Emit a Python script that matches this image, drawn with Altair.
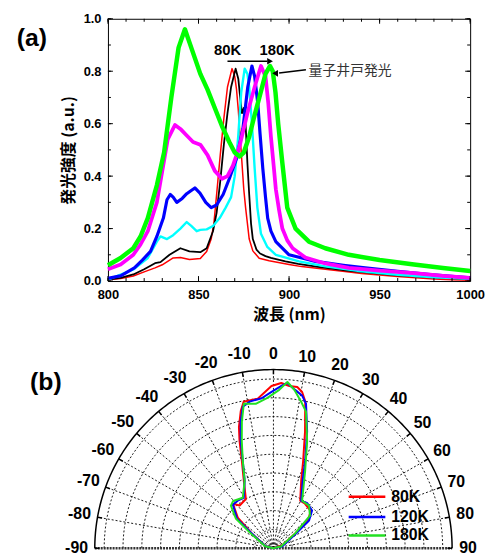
import altair as alt
import numpy as np
import pandas as pd

FONT = "Liberation Sans, Arial, Noto Sans CJK JP, sans-serif"
JFONT = "Noto Sans CJK JP, Liberation Sans, sans-serif"

# ---------------- (a) PL spectra ----------------
TEMPS = ["80K", "100K", "120K", "140K", "160K", "180K"]
COLORS_A = ["#ff0000", "#000000", "#00ffff", "#0000ff", "#ff00ff", "#00ff00"]
WIDTHS_A = [1.5, 1.8, 2.4, 3.2, 3.8, 4.5]

RED_WL = [800, 807, 814, 820, 826, 830, 836, 840, 845, 851, 854.5, 857, 858.5, 860, 862, 864, 866, 868.5, 870, 871, 872, 873, 874, 875, 876, 877, 878, 880, 883.5, 889, 900, 907, 920, 932, 940, 950, 960, 970, 980, 990, 1000]
RED_I = [0.005, 0.01, 0.019, 0.035, 0.05, 0.062, 0.088, 0.09, 0.082, 0.086, 0.113, 0.16, 0.22, 0.33, 0.48, 0.62, 0.74, 0.81, 0.78, 0.73, 0.65, 0.55, 0.45, 0.35, 0.28, 0.22, 0.16, 0.115, 0.087, 0.077, 0.063, 0.055, 0.045, 0.035, 0.029, 0.023, 0.017, 0.012, 0.008, 0.005, 0.003]

BLACK_WL = [800, 807, 814, 820, 826, 829, 834, 840, 845, 851, 854.5, 858, 860, 862, 864, 866, 868, 870.5, 872, 873, 874, 875, 876, 877, 878, 879, 880, 882, 884, 887, 890, 898, 905, 916, 932, 945, 960, 975, 990, 1000]
BLACK_I = [0.005, 0.012, 0.025, 0.045, 0.068, 0.072, 0.10, 0.125, 0.113, 0.11, 0.125, 0.19, 0.26, 0.38, 0.52, 0.64, 0.74, 0.81, 0.77, 0.70, 0.64, 0.66, 0.60, 0.45, 0.33, 0.22, 0.16, 0.12, 0.105, 0.095, 0.088, 0.075, 0.065, 0.054, 0.04, 0.031, 0.022, 0.015, 0.01, 0.007]

CYAN_WL = [800, 807, 814, 822, 827, 829, 832.6, 836, 840, 843.5, 846, 849, 851, 854.5, 858, 861.7, 865, 868, 870, 871.9, 873.6, 875.5, 877, 878, 879.5, 881, 882.5, 884.5, 888, 892.7, 905.5, 920, 940, 960, 980, 1000]
CYAN_I = [0.005, 0.025, 0.044, 0.088, 0.15, 0.17, 0.16, 0.175, 0.20, 0.225, 0.21, 0.19, 0.195, 0.197, 0.21, 0.24, 0.28, 0.32, 0.40, 0.55, 0.72, 0.81, 0.79, 0.74, 0.60, 0.43, 0.28, 0.18, 0.13, 0.10, 0.075, 0.056, 0.037, 0.024, 0.014, 0.008]

BLUE_WL = [800, 807, 814.6, 819, 823.5, 827, 830.6, 832.6, 834.4, 836, 838, 841, 843.5, 846, 848, 850.8, 854, 857, 860, 863.6, 867, 870.9, 874.5, 877.2, 879.5, 881, 882.7, 884, 885.5, 887, 888.2, 890, 892.7, 900, 914.6, 930, 942, 960, 978, 1000]
BLUE_I = [0.01, 0.02, 0.05, 0.08, 0.113, 0.17, 0.24, 0.31, 0.33, 0.32, 0.30, 0.315, 0.333, 0.345, 0.355, 0.335, 0.30, 0.28, 0.29, 0.33, 0.39, 0.465, 0.58, 0.74, 0.82, 0.78, 0.68, 0.56, 0.43, 0.32, 0.24, 0.19, 0.15, 0.10, 0.075, 0.06, 0.05, 0.037, 0.025, 0.012]

MAG_WL = [800, 807, 814, 818, 822, 827, 830, 833, 837, 840, 843.5, 847, 851, 855, 859, 863, 866, 869, 872.7, 877, 881, 884.5, 887, 888.5, 890, 891.5, 892.7, 894.5, 896.3, 899, 902, 909, 920, 933, 950, 969, 985, 1000]
MAG_I = [0.045, 0.063, 0.10, 0.14, 0.19, 0.30, 0.42, 0.54, 0.595, 0.58, 0.555, 0.53, 0.52, 0.48, 0.42, 0.39, 0.40, 0.44, 0.515, 0.64, 0.74, 0.82, 0.78, 0.68, 0.55, 0.44, 0.35, 0.27, 0.20, 0.155, 0.125, 0.09, 0.067, 0.05, 0.04, 0.03, 0.02, 0.012]

GREEN_WL = [800, 807, 814, 818, 822, 827, 831, 835, 839, 842.5, 845, 848, 851, 855, 859, 863, 867, 870, 872.7, 875, 878, 880.5, 883.6, 887, 889.5, 891, 892.5, 894, 896.3, 899, 903.6, 911, 920, 933, 950, 969, 985, 1000]
GREEN_I = [0.06, 0.088, 0.125, 0.17, 0.24, 0.365, 0.49, 0.70, 0.89, 0.96, 0.91, 0.85, 0.79, 0.73, 0.66, 0.59, 0.53, 0.49, 0.475, 0.49, 0.55, 0.62, 0.70, 0.79, 0.82, 0.80, 0.72, 0.60, 0.45, 0.28, 0.20, 0.15, 0.125, 0.10, 0.08, 0.063, 0.05, 0.038]

WL_ALL = [RED_WL, BLACK_WL, CYAN_WL, BLUE_WL, MAG_WL, GREEN_WL]
I_ALL = [RED_I, BLACK_I, CYAN_I, BLUE_I, MAG_I, GREEN_I]

X_LABELS = [800, 850, 900, 950, 1000]
Y_LABELS = [0.0, 0.2, 0.4, 0.6, 0.8, 1.0]
X_MINOR = list(range(800, 1001, 10))
Y_MINOR = [round(0.1 * k, 1) for k in range(11)]

ANN_TEXT = ["80K", "180K"]
ANN_WL = [866.0, 893.4]
ANN_V = [0.879, 0.879]
ARROW1_WL = [866.0, 888.0]
ARROW1_V = [0.838, 0.838]
HEAD1 = (889.5, 0.838)
ARROW2_WL = [894.5, 909.3]
ARROW2_V = [0.793, 0.806]
HEAD2 = (892.3, 0.792)
QW_TEXT = "量子井戸発光"
QW_POS = (910.8, 0.80)

W_A, H_A = 366, 265

rows = []
for name, L, V in zip(TEMPS, WL_ALL, I_ALL):
    for k, (l, v) in enumerate(zip(L, V)):
        rows.append({"temp": name, "wl": l, "v": v, "ord": k})
df_a = pd.DataFrame(rows)

xs_a = alt.Scale(domain=[800, 1000], nice=False, zero=False)
ys_a = alt.Scale(domain=[0, 1], nice=False, zero=False)
cs_a = alt.Scale(domain=TEMPS, range=COLORS_A)

xa = alt.X("wl:Q", scale=xs_a, axis=alt.Axis(
    values=X_LABELS, format="d", ticks=False, domain=False, grid=False,
    labelFlush=False, labelOverlap=False,
    labelFont=FONT, labelFontSize=13, labelFontWeight="bold", labelColor="black",
    labelPadding=8, title="波長 (nm)", titleFont=JFONT, titleFontSize=16,
    titleFontWeight="bold", titleColor="black", titlePadding=5))
ya = alt.Y("v:Q", scale=ys_a, axis=alt.Axis(
    values=Y_LABELS, format=".1f", ticks=False, domain=False, grid=False,
    labelFlush=False, labelOverlap=False,
    labelFont=FONT, labelFontSize=13, labelFontWeight="bold", labelColor="black",
    labelPadding=7, title="発光強度 (a.u.)", titleFont=JFONT, titleFontSize=16,
    titleFontWeight="bold", titleColor="black", titlePadding=7))

layers_a = []
for name, w in zip(TEMPS, WIDTHS_A):
    layers_a.append(
        alt.Chart(df_a).transform_filter(alt.datum.temp == name)
        .mark_line(strokeWidth=w, strokeJoin="round")
        .encode(x=xa, y=ya, order="ord:Q",
                color=alt.Color("temp:N", scale=cs_a, legend=None)))

# inward ticks on all four sides
for vals, ln in [(X_LABELS, 5), (X_MINOR, 3)]:
    tdf = pd.DataFrame({"wl": vals})
    layers_a.append(alt.Chart(tdf).mark_rule(color="black", strokeWidth=1).encode(
        x=xa, y=alt.value(H_A), y2=alt.value(H_A - ln)))
    layers_a.append(alt.Chart(tdf).mark_rule(color="black", strokeWidth=1).encode(
        x=xa, y=alt.value(0), y2=alt.value(ln)))
for vals, ln in [(Y_LABELS, 5), (Y_MINOR, 3)]:
    tdf = pd.DataFrame({"v": vals})
    layers_a.append(alt.Chart(tdf).mark_rule(color="black", strokeWidth=1).encode(
        y=ya, x=alt.value(0), x2=alt.value(ln)))
    layers_a.append(alt.Chart(tdf).mark_rule(color="black", strokeWidth=1).encode(
        y=ya, x=alt.value(W_A), x2=alt.value(W_A - ln)))

ann_df = pd.DataFrame({"wl": ANN_WL, "v": ANN_V, "t": ANN_TEXT})
layers_a.append(alt.Chart(ann_df).mark_text(font=FONT, fontSize=15, fontWeight="bold",
                                            color="black", align="center", baseline="middle")
                .encode(x=xa, y=ya, text="t:N"))
ar1 = pd.DataFrame({"wl": ARROW1_WL, "v": ARROW1_V})
layers_a.append(alt.Chart(ar1).mark_line(color="black", strokeWidth=1.5).encode(x=xa, y=ya))
h1 = pd.DataFrame({"wl": [HEAD1[0]], "v": [HEAD1[1]]})
layers_a.append(alt.Chart(h1).mark_point(shape="triangle-right", filled=True, size=45,
                                         color="black", opacity=1).encode(x=xa, y=ya))
ar2 = pd.DataFrame({"wl": ARROW2_WL, "v": ARROW2_V})
layers_a.append(alt.Chart(ar2).mark_line(color="black", strokeWidth=1.5).encode(x=xa, y=ya))
h2 = pd.DataFrame({"wl": [HEAD2[0]], "v": [HEAD2[1]]})
layers_a.append(alt.Chart(h2).mark_point(shape="triangle-left", filled=True, size=45,
                                         color="black", opacity=1).encode(x=xa, y=ya))
qw = pd.DataFrame({"wl": [QW_POS[0]], "v": [QW_POS[1]], "t": [QW_TEXT]})
layers_a.append(alt.Chart(qw).mark_text(font=JFONT, fontSize=14, color="#333333",
                                        align="left", baseline="middle")
                .encode(x=xa, y=ya, text="t:N"))
pa = pd.DataFrame({"wl": [758.0], "v": [0.925], "t": ["(a)"]})
layers_a.append(alt.Chart(pa).mark_text(font=FONT, fontSize=25, fontWeight="bold",
                                        color="black", align="center", baseline="middle")
                .encode(x=xa, y=ya, text="t:N"))

chart_a = alt.layer(*layers_a).properties(
    width=W_A, height=H_A, view=alt.ViewBackground(stroke="black", strokeWidth=1))

# ---------------- (b) polar emission pattern ----------------
B_TEMPS = ["80K", "120K", "180K"]
COLORS_B = ["#ff0000", "#0000ff", "#22e022"]

RED_ANG = [-90, -76, -55.7, -49.3, -42.3, -38.3, -29.2, -23.8, -20.0, -17.5, -15.9, -13.4, -11.5, -6.0, -3.3, -0.7, 2.7, 5.6, 8.4, 10.4, 12.2, 15.2, 18.8, 22.4, 29.4, 35.4, 45.0, 51.3, 55.7, 71.6, 90]
RED_R = [0, 0.043, 0.14, 0.25, 0.32, 0.29, 0.30, 0.39, 0.49, 0.60, 0.67, 0.75, 0.795, 0.80, 0.83, 0.863, 0.88, 0.867, 0.867, 0.845, 0.80, 0.64, 0.49, 0.387, 0.29, 0.29, 0.28, 0.236, 0.14, 0.05, 0]

BLUE_ANG = [-90, -76, -55.2, -51, -43, -36.9, -30.5, -23.1, -19.4, -17, -14.5, -12.2, -9.2, -4.5, -0.7, 2.8, 4.8, 7.8, 10.7, 12.7, 16.1, 20, 23, 30.3, 36.5, 45.7, 52.1, 56.9, 77.5, 90]
BLUE_R = [0, 0.043, 0.147, 0.25, 0.316, 0.316, 0.311, 0.39, 0.49, 0.594, 0.696, 0.77, 0.79, 0.80, 0.832, 0.864, 0.882, 0.85, 0.825, 0.788, 0.646, 0.493, 0.40, 0.292, 0.30, 0.287, 0.24, 0.145, 0.049, 0]

GREEN_ANG = [-90, -77, -56.3, -51.7, -45, -40.5, -31.3, -23.1, -19.4, -16.5, -14, -11.6, -7, -2.3, 2.1, 4.8, 7.5, 10.7, 13.4, 17.5, 22.3, 31.1, 39.9, 48.3, 55.7, 76, 90]
GREEN_R = [0, 0.045, 0.152, 0.255, 0.32, 0.33, 0.314, 0.39, 0.49, 0.593, 0.694, 0.784, 0.774, 0.80, 0.843, 0.887, 0.85, 0.793, 0.747, 0.596, 0.444, 0.295, 0.295, 0.26, 0.14, 0.043, 0]

ANG_ALL = [RED_ANG, BLUE_ANG, GREEN_ANG]
R_ALL = [RED_R, BLUE_R, GREEN_R]

R_OUT = 0.95
GRID_R = [0.1, 0.2, 0.3, 0.4, 0.5, 0.6, 0.7, 0.8, 0.9]
SPOKES = list(range(-80, 81, 10))
ANGLE_LABELS = list(range(-90, 91, 10))
LEG_Y = [0.274, 0.166, 0.068]
LEG_X = [0.40, 0.595]
LEG_TX = 0.626

W_B, H_B = 366, 190
xs_b = alt.Scale(domain=[-0.88, 1.046], nice=False, zero=False)
ys_b = alt.Scale(domain=[0, 1], nice=False, zero=False)
cs_b = alt.Scale(domain=B_TEMPS, range=COLORS_B)
xb = alt.X("px:Q", scale=xs_b, axis=None)
yb = alt.Y("py:Q", scale=ys_b, axis=None)

PX = "datum.r * sin(datum.a * PI / 180)"
PY = "datum.r * cos(datum.a * PI / 180)"

grid_rows = [{"r": r, "a": a} for r in GRID_R for a in range(-90, 91, 2)]
grid_df = pd.DataFrame(grid_rows)
outer_df = pd.DataFrame({"r": R_OUT, "a": list(range(-90, 91, 1))})

layers_b = []
layers_b.append(alt.Chart(grid_df).transform_calculate(px=PX, py=PY)
                .mark_line(color="black", strokeWidth=0.9, strokeDash=[2, 2])
                .encode(x=xb, y=yb, detail="r:N", order="a:Q"))
spk = pd.DataFrame({"a": SPOKES, "r": R_OUT})
layers_b.append(alt.Chart(spk).transform_calculate(
    px="0", py="0", qx=PX, qy=PY)
    .mark_rule(color="black", strokeWidth=0.9, strokeDash=[2, 2])
    .encode(x=xb, y=yb, x2="qx:Q", y2="qy:Q"))
base_df = pd.DataFrame({"a": [-90], "r": [R_OUT]})
layers_b.append(alt.Chart(base_df).transform_calculate(
    px=PX, py="0", qx="-" + "(" + PX + ")", qy="0")
    .mark_rule(color="#333333", strokeWidth=2.5, strokeDash=[2, 1])
    .encode(x=xb, y=yb, x2="qx:Q", y2="qy:Q"))
layers_b.append(alt.Chart(outer_df).transform_calculate(px=PX, py=PY)
                .mark_line(color="black", strokeWidth=1.5)
                .encode(x=xb, y=yb, order="a:Q"))
tk = pd.DataFrame({"a": ANGLE_LABELS, "r": R_OUT})
layers_b.append(alt.Chart(tk).transform_calculate(
    px=PX, py=PY,
    qx="(datum.r - 0.025) * sin(datum.a * PI / 180)",
    qy="(datum.r - 0.025) * cos(datum.a * PI / 180)")
    .mark_rule(color="black", strokeWidth=1.5)
    .encode(x=xb, y=yb, x2="qx:Q", y2="qy:Q"))

brows = []
for name, A, R in zip(B_TEMPS, ANG_ALL, R_ALL):
    for k, (a, r) in enumerate(zip(A, R)):
        brows.append({"tb": name, "a": a, "r": r, "ord": k})
df_b = pd.DataFrame(brows)
for name in B_TEMPS:
    layers_b.append(alt.Chart(df_b).transform_filter(alt.datum.tb == name)
                    .transform_calculate(px=PX, py=PY)
                    .mark_line(strokeWidth=2, strokeJoin="round")
                    .encode(x=xb, y=yb, order="ord:Q",
                            color=alt.Color("tb:N", scale=cs_b, legend=None)))

leg_rows = []
for name, ly in zip(B_TEMPS, LEG_Y):
    leg_rows.append({"tb": name, "px": LEG_X[0], "qx": LEG_X[1], "py": ly, "tx": LEG_TX})
leg_df = pd.DataFrame(leg_rows)
layers_b.append(alt.Chart(leg_df).mark_rule(strokeWidth=2.5).encode(
    x=xb, x2="qx:Q", y=yb, color=alt.Color("tb:N", scale=cs_b, legend=None)))
layers_b.append(alt.Chart(leg_df).mark_text(font=FONT, fontSize=16, fontWeight="bold",
                                            color="black", align="left", baseline="middle")
                .encode(x=alt.X("tx:Q", scale=xs_b, axis=None), y=yb, text="tb:N"))

lab_df = pd.DataFrame({"a": ANGLE_LABELS, "t": [str(a) for a in ANGLE_LABELS]})
layers_b.append(alt.Chart(lab_df).transform_calculate(
    r="datum.a < 0 ? 1.047 : 1.035").transform_calculate(px=PX, py=PY)
    .mark_text(font=FONT, fontSize=16, fontWeight="bold", color="black",
               align="center", baseline="middle")
    .encode(x=xb, y=yb, text="t:N"))
pb = pd.DataFrame({"px": [-1.21], "py": [0.884], "t": ["(b)"]})
layers_b.append(alt.Chart(pb).mark_text(font=FONT, fontSize=25, fontWeight="bold",
                                        color="black", align="center", baseline="middle")
                .encode(x=xb, y=yb, text="t:N"))

chart_b = alt.layer(*layers_b).properties(
    width=W_B, height=H_B, view=alt.ViewBackground(stroke="transparent"))

chart = alt.vconcat(chart_a, chart_b, spacing=80, bounds="flush").resolve_scale(
    x="independent", y="independent", color="independent"
).properties(padding={"left": 8, "top": 1, "right": 0, "bottom": 0}
).configure(background="white")

chart.save("out.html", embed_options={"renderer": "svg", "actions": False})
